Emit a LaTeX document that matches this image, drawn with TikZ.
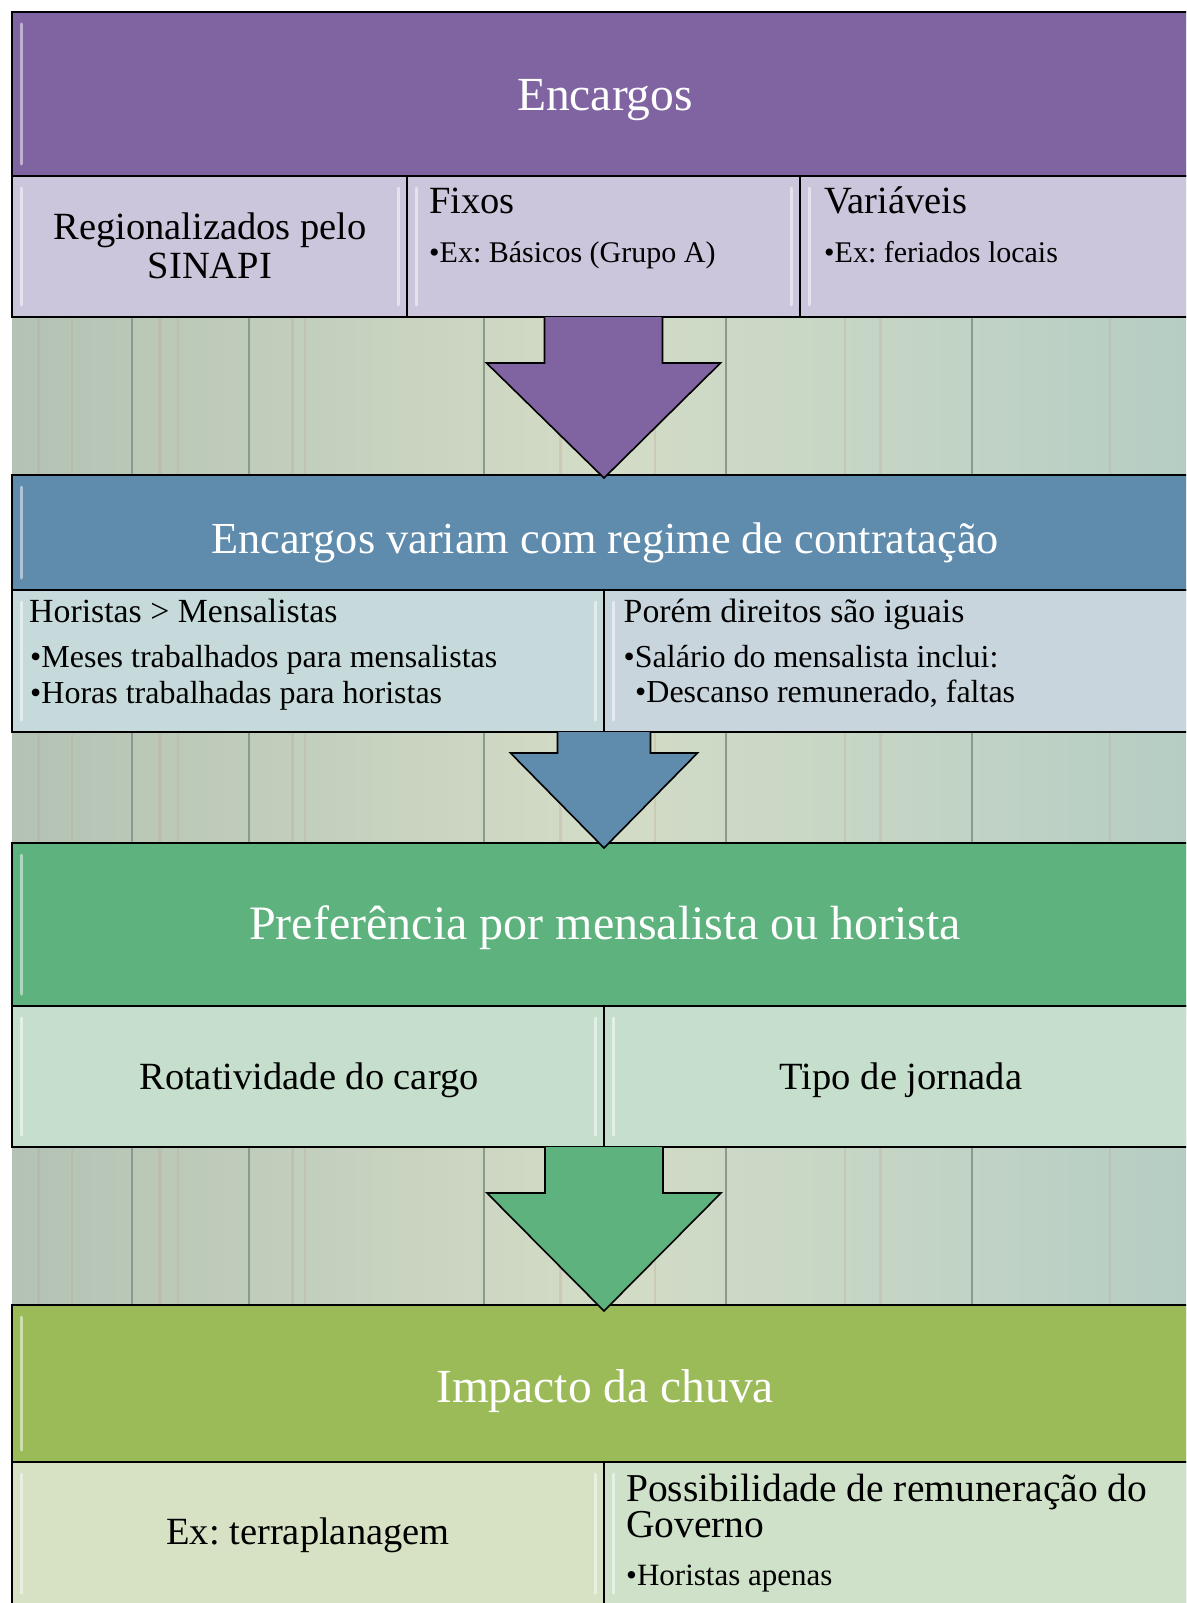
\documentclass[tikz,border=0pt]{standalone}
\usepackage{fontspec}
\setmainfont{Liberation Serif}
\usetikzlibrary{positioning, calc}
\frenchspacing

\definecolor{encA}{HTML}{8064A2}
\definecolor{subA}{HTML}{CBC6DB}
\definecolor{encB}{HTML}{5F8BAD}
\definecolor{subBl}{HTML}{C7DADB}
\definecolor{subBr}{HTML}{C9D5DD}
\definecolor{encC}{HTML}{5DB27E}
\definecolor{subC}{HTML}{C6DFCC}
\definecolor{encD}{HTML}{9BBB59}
\definecolor{subDl}{HTML}{D6E2C3}
\definecolor{subDr}{HTML}{CFE1C9}
\definecolor{woodL}{HTML}{B3C2B4}
\definecolor{woodM}{HTML}{D3DCC6}
\definecolor{woodR}{HTML}{B5CDC4}
\definecolor{plank}{HTML}{8B998F}
\definecolor{streak}{HTML}{C4A596}

\newcommand{\fHead}{\fontsize{47.5}{50}\selectfont}
\newcommand{\fHeadB}{\fontsize{44.3}{46}\selectfont}
\newcommand{\fSub}{\fontsize{38.5}{39}\selectfont}
\newcommand{\fSubB}{\fontsize{33.8}{36}\selectfont}
\newcommand{\fBul}{\fontsize{30}{32}\selectfont}
\newcommand{\fBulB}{\fontsize{32}{34}\selectfont}

\begin{document}
\begin{tikzpicture}[x=1pt, y=-1pt,
  box/.style={draw=black, line width=1.6pt, rectangle, inner sep=0pt, outer sep=0pt},
  hdrbox/.style={box, minimum width=1184pt},
  subbox/.style={box, anchor=north west},
  bevel/.style={draw=white, opacity=0.5, line width=3pt, line cap=round},
  blockarrow/.style={draw=black, line width=1.6pt, line join=miter},
  hdrtext/.style={inner sep=0pt, text=white, font=\fHead},
  subtext/.style={inner sep=0pt, text=black, font=\fSub},
  bultext/.style={inner sep=0pt, text=black, font=\fBul}]

\useasboundingbox (0,0) rectangle (1186,1603);
\clip (0,0) rectangle (1186,1603);

% wood background
\shade[left color=woodL, right color=woodR, middle color=woodM] (12,12) rectangle (1196,1610);
\foreach \x/\w in {38/3pt, 72/2pt, 160/4pt, 178/2pt, 292/3pt, 305/2pt, 560/3pt, 598/2pt, 655/2pt, 845/2pt, 880/3pt, 1110/2pt}
  \draw[streak, opacity=0.3, line width=\w] (\x,12) -- (\x,1610);
\foreach \x in {132, 249, 484, 726, 972}
  \draw[plank, line width=1.4pt] (\x,12) -- (\x,1610);

% boxes
\node[hdrbox, fill=encA, minimum height=164pt] at (604,94) (hdrA) {};
\node[subbox, fill=subA, minimum width=395pt, minimum height=141pt] at (hdrA.south west) (subA1) {};
\node[subbox, fill=subA, minimum width=393pt, minimum height=141pt] at (subA1.north east) (subA2) {};
\node[subbox, fill=subA, minimum width=396pt, minimum height=141pt] at (subA2.north east) (subA3) {};

\node[hdrbox, fill=encB, minimum height=115pt] at (604,532.5) (hdrB) {};
\node[subbox, fill=subBl, minimum width=592pt, minimum height=142pt] at (hdrB.south west) (subB1) {};
\node[subbox, fill=subBr, minimum width=592pt, minimum height=142pt] at (subB1.north east) (subB2) {};

\node[hdrbox, fill=encC, minimum height=163pt] at (604,924.5) (hdrC) {};
\node[subbox, fill=subC, minimum width=592pt, minimum height=141pt] at (hdrC.south west) (subC1) {};
\node[subbox, fill=subC, minimum width=592pt, minimum height=141pt] at (subC1.north east) (subC2) {};

\node[hdrbox, fill=encD, minimum height=157pt] at (604,1383.5) (hdrD) {};
\node[subbox, fill=subDl, minimum width=592pt, minimum height=143pt] at (hdrD.south west) (subD1) {};
\node[subbox, fill=subDr, minimum width=592pt, minimum height=143pt] at (subD1.north east) (subD2) {};

\foreach \b in {hdrA, subA1, subA2, subA3, hdrB, subB1, subB2, hdrC, subC1, subC2, hdrD, subD1, subD2} {
  \draw[bevel] ($(\b.north west)+(9,12)$) -- ($(\b.south west)+(9,-12)$);
  \draw[bevel] ($(\b.north east)+(-9,12)$) -- ($(\b.south east)+(-9,-12)$);
}

% arrows
\filldraw[blockarrow, fill=encA] ($(subA2.south)+(-59,0)$) -- ($(subA2.south)+(-59,46)$) -- ($(subA2.south)+(-117,46)$) -- ($(hdrB.north)+(0,3)$) -- ($(subA2.south)+(117,46)$) -- ($(subA2.south)+(59,46)$) -- ($(subA2.south)+(59,0)$);
\filldraw[blockarrow, fill=encB] ($(subB1.south east)+(-46.5,0)$) -- ($(subB1.south east)+(-46.5,21)$) -- ($(subB1.south east)+(-93.5,21)$) -- ($(hdrC.north)+(0,5)$) -- ($(subB1.south east)+(93.5,21)$) -- ($(subB1.south east)+(46.5,21)$) -- ($(subB1.south east)+(46.5,0)$);
\filldraw[blockarrow, fill=encC] ($(subC1.south east)+(-59,0)$) -- ($(subC1.south east)+(-59,46)$) -- ($(subC1.south east)+(-117,46)$) -- ($(hdrD.north)+(0,6)$) -- ($(subC1.south east)+(117,46)$) -- ($(subC1.south east)+(59,46)$) -- ($(subC1.south east)+(59,0)$);

% texts
\node[hdrtext, anchor=base] at (605,110) (tEnc) {Encargos};
\node[subtext, anchor=base, align=center] at (210,278) (tReg) {Regionalizados pelo\\SINAPI};
\node[subtext, anchor=base west] at (429,213) (tFix) {Fixos};
\node[bultext, anchor=base west] at (429,262) (tFixEx) {•Ex: Básicos (Grupo A)};
\node[subtext, anchor=base west] at (824,213) (tVar) {Variáveis};
\node[bultext, anchor=base west] at (824,262) (tVarEx) {•Ex: feriados locais};

\node[hdrtext, font=\fHeadB, anchor=base] at (605,553) (tRegime) {Encargos variam com regime de contratação};
\node[subtext, font=\fSubB, anchor=base west] at (29,622) (tHor) {Horistas > Mensalistas};
\node[bultext, font=\fBulB, anchor=base west] at (30,667) (tMeses) {•Meses trabalhados para mensalistas};
\node[bultext, font=\fBulB, anchor=base west] at (30,703) (tHoras) {•Horas trabalhadas para horistas};
\node[subtext, font=\fSubB, anchor=base west] at (623.5,622) (tPorem) {Porém direitos são iguais};
\node[bultext, font=\fBulB, anchor=base west] at (623.5,667) (tSal) {•Salário do mensalista inclui:};
\node[bultext, font=\fBulB, anchor=base west] at (635,702) (tDesc) {•Descanso remunerado, faltas};

\node[hdrtext, font=\fontsize{48}{50}\selectfont, anchor=base] at (605,939.5) (tPref) {Preferência por mensalista ou horista};
\node[subtext, anchor=base] at (309,1089) (tRot) {Rotatividade do cargo};
\node[subtext, anchor=base] at (901,1089) (tTipo) {Tipo de jornada};

\node[hdrtext, anchor=base] at (605,1402) (tChuva) {Impacto da chuva};
\node[subtext, anchor=base] at (308,1544) (tTerra) {Ex: terraplanagem};
\node[subtext, font=\fontsize{39.5}{34.5}\selectfont, anchor=base west, align=left] at (626,1537.5) (tPoss) {Possibilidade de remuneração do\\Governo};
\node[bultext, font=\fontsize{31}{33}\selectfont, anchor=base west] at (626,1585) (tHorAp) {•Horistas apenas};

\end{tikzpicture}
\end{document}
